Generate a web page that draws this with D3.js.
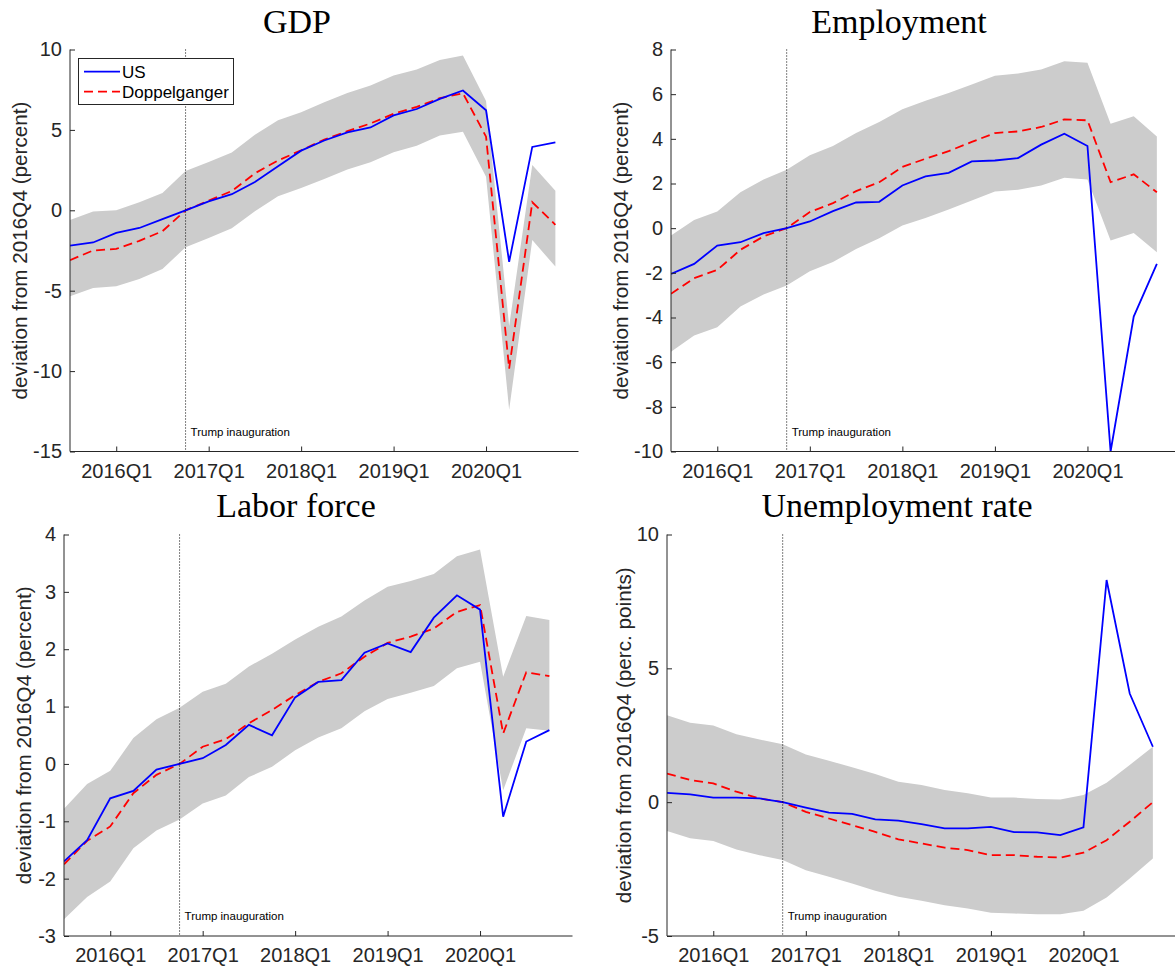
<!DOCTYPE html>
<html>
<head>
<meta charset="utf-8">
<script src="https://cdn.jsdelivr.net/npm/d3@7"></script>
<style>
  body { margin: 0; background: #fff; }
  .sans { font-family: "Liberation Sans", Arial, Helvetica, sans-serif; }
  .serif { font-family: "Liberation Serif", "Times New Roman", serif; }
</style>
</head>
<body>
<script>
// quarters 2015Q3 .. 2020Q4
var quarters = ["2015Q3","2015Q4","2016Q1","2016Q2","2016Q3","2016Q4",
                "2017Q1","2017Q2","2017Q3","2017Q4","2018Q1","2018Q2",
                "2018Q3","2018Q4","2019Q1","2019Q2","2019Q3","2019Q4",
                "2020Q1","2020Q2","2020Q3","2020Q4"];
var xTickLabels = ["2016Q1","2017Q1","2018Q1","2019Q1","2020Q1"];
var inauguration = "2016Q4";
var seriesNames = ["US", "Doppelganger"];

// GDP
var gdpUS  = [-2.2,-2.0,-1.4,-1.1,-0.55,0,0.55,1.0,1.76,2.74,3.71,4.34,4.85,5.15,5.9,6.3,6.93,7.45,6.22,-3.2,3.94,4.23];
var gdpDop = [-3.1,-2.5,-2.4,-1.9,-1.3,0,0.6,1.2,2.3,3.1,3.73,4.4,4.92,5.4,6.0,6.43,6.97,7.28,4.58,-9.85,0.5,-0.9];
var gdpHi  = [-0.6,-0.08,0.0,0.5,1.08,2.45,3.0,3.6,4.7,5.6,6.1,6.72,7.3,7.76,8.38,8.76,9.34,9.62,6.8,-7.2,2.82,1.22];
var gdpLo  = [-5.35,-4.83,-4.73,-4.27,-3.65,-2.3,-1.72,-1.12,-0.06,0.87,1.39,1.95,2.53,2.99,3.61,4.02,4.65,4.88,2.09,-12.4,-1.85,-3.5];

// Employment
var empUS  = [-2.05,-1.6,-0.78,-0.63,-0.22,0,0.3,0.76,1.15,1.18,1.91,2.32,2.48,2.99,3.03,3.14,3.74,4.23,3.68,-10.0,-3.96,-1.6];
var empDop = [-2.94,-2.24,-1.87,-0.97,-0.37,0,0.72,1.12,1.66,2.06,2.74,3.11,3.45,3.86,4.26,4.33,4.53,4.87,4.83,2.06,2.41,1.61];
var empHi  = [-0.33,0.37,0.75,1.61,2.18,2.62,3.26,3.68,4.26,4.75,5.32,5.7,6.05,6.43,6.82,6.92,7.11,7.47,7.41,4.68,5.01,4.11];
var empLo  = [-5.53,-4.81,-4.44,-3.51,-2.97,-2.57,-1.93,-1.52,-0.93,-0.45,0.12,0.46,0.84,1.24,1.64,1.72,1.91,2.26,2.18,-0.55,-0.22,-1.08];

// Labor force
var lfUS  = [-1.7,-1.33,-0.6,-0.47,-0.1,0,0.1,0.33,0.68,0.5,1.16,1.43,1.46,1.94,2.1,1.95,2.55,2.94,2.69,-0.92,0.39,0.59];
var lfDop = [-1.75,-1.34,-1.09,-0.51,-0.19,0,0.3,0.43,0.71,0.94,1.2,1.43,1.58,1.87,2.11,2.22,2.36,2.65,2.77,0.53,1.6,1.53];
var lfHi  = [-0.78,-0.35,-0.12,0.45,0.78,0.98,1.26,1.4,1.7,1.92,2.17,2.39,2.57,2.85,3.09,3.19,3.31,3.62,3.74,1.52,2.58,2.51];
var lfLo  = [-2.71,-2.32,-2.05,-1.47,-1.16,-0.97,-0.69,-0.55,-0.23,-0.05,0.24,0.46,0.62,0.92,1.13,1.24,1.36,1.67,1.78,-0.46,0.62,0.58];

// Unemployment rate
var urUS  = [0.35,0.29,0.17,0.17,0.14,0,-0.2,-0.39,-0.44,-0.64,-0.69,-0.82,-0.98,-0.98,-0.92,-1.12,-1.13,-1.23,-0.94,8.3,4.06,2.07];
var urDop = [1.07,0.83,0.7,0.39,0.14,0,-0.36,-0.61,-0.86,-1.11,-1.39,-1.54,-1.7,-1.79,-1.98,-1.98,-2.04,-2.07,-1.89,-1.42,-0.73,0.0];
var urHi  = [3.25,2.97,2.86,2.54,2.34,2.16,1.78,1.55,1.3,1.05,0.76,0.64,0.45,0.33,0.17,0.17,0.12,0.1,0.27,0.73,1.39,2.07];
var urLo  = [-1.08,-1.35,-1.45,-1.77,-1.98,-2.16,-2.54,-2.79,-3.04,-3.31,-3.53,-3.68,-3.85,-3.97,-4.13,-4.16,-4.19,-4.19,-4.06,-3.56,-2.85,-2.1];

var panels = [
  {title: "GDP", us: gdpUS, dop: gdpDop, lo: gdpLo, hi: gdpHi,
   yDomain: [-15, 10], yTicks: [-15, -10, -5, 0, 5, 10],
   yLabel: "deviation from 2016Q4 (percent)",
   left: 70, right: 578.5, top: 49.5, bottom: 451.5,
   titleX: 297, titleY: 33, labelX: 27, legend: true},
  {title: "Employment", us: empUS, dop: empDop, lo: empLo, hi: empHi,
   yDomain: [-10, 8], yTicks: [-10, -8, -6, -4, -2, 0, 2, 4, 6, 8],
   yLabel: "deviation from 2016Q4 (percent)",
   left: 671, right: 1180, top: 49.5, bottom: 451.5,
   titleX: 899, titleY: 33, labelX: 628, legend: false},
  {title: "Labor force", us: lfUS, dop: lfDop, lo: lfLo, hi: lfHi,
   yDomain: [-3, 4], yTicks: [-3, -2, -1, 0, 1, 2, 3, 4],
   yLabel: "deviation from 2016Q4 (percent)",
   left: 64, right: 572.5, top: 534.5, bottom: 936,
   titleX: 296, titleY: 517, labelX: 31, legend: false},
  {title: "Unemployment rate", us: urUS, dop: urDop, lo: urLo, hi: urHi,
   yDomain: [-5, 10], yTicks: [-5, 0, 5, 10],
   yLabel: "deviation from 2016Q4 (perc. points)",
   left: 667, right: 1176, top: 534.5, bottom: 936,
   titleX: 897, titleY: 517, labelX: 631, legend: false}
];

var svg = d3.select("body").append("svg")
    .attr("width", 1175)
    .attr("height", 968);

var axisColor = "#262626";

panels.forEach(function (p, k) {
  var x = d3.scaleLinear().domain([0, quarters.length]).range([p.left, p.right]);
  var y = d3.scaleLinear().domain(p.yDomain).range([p.bottom, p.top]);
  var g = svg.append("g");

  g.append("clipPath").attr("id", "clip" + k)
    .append("rect")
    .attr("x", p.left).attr("y", p.top - 1)
    .attr("width", p.right - p.left).attr("height", p.bottom - p.top + 2);

  var plot = g.append("g").attr("clip-path", "url(#clip" + k + ")");

  // confidence band
  var area = d3.area()
    .x(function (d, i) { return x(i); })
    .y0(function (d, i) { return y(p.lo[i]); })
    .y1(function (d, i) { return y(p.hi[i]); });
  plot.append("path").datum(quarters)
    .attr("d", area)
    .attr("fill", "#cccccc");

  // inauguration marker
  var qi = quarters.indexOf(inauguration);
  g.append("line")
    .attr("x1", x(qi)).attr("x2", x(qi))
    .attr("y1", p.top).attr("y2", p.bottom)
    .attr("stroke", "#000").attr("stroke-width", 1)
    .attr("stroke-dasharray", "1,2");
  g.append("text").attr("class", "sans")
    .attr("x", x(qi) + 5).attr("y", p.bottom - 16)
    .attr("font-size", 11.5).attr("fill", "#000")
    .text("Trump inauguration");

  var line = function (arr) {
    return d3.line()
      .x(function (d, i) { return x(i); })
      .y(function (d) { return y(d); })(arr);
  };
  plot.append("path").attr("d", line(p.dop))
    .attr("fill", "none").attr("stroke", "#ff0000")
    .attr("stroke-width", 1.8).attr("stroke-dasharray", "9,5");
  plot.append("path").attr("d", line(p.us))
    .attr("fill", "none").attr("stroke", "#0000ff")
    .attr("stroke-width", 1.8);

  // y axis (plain hyphen for negatives, like the original)
  var yAxis = d3.axisLeft(y).tickValues(p.yTicks).tickSize(-5).tickPadding(8)
    .tickFormat(function (d) { return String(d); });
  var ya = g.append("g").attr("transform", "translate(" + p.left + ",0)").call(yAxis);
  // x axis
  var xTicks = xTickLabels.map(function (q) { return quarters.indexOf(q); });
  var xAxis = d3.axisBottom(x).tickValues(xTicks).tickSize(-5).tickPadding(12)
    .tickFormat(function (d) { return quarters[d]; });
  var xa = g.append("g").attr("transform", "translate(0," + p.bottom + ")").call(xAxis);

  [ya, xa].forEach(function (a) {
    a.attr("font-family", null).attr("font-size", null);
    a.select(".domain").attr("stroke", axisColor).attr("stroke-width", 1);
    a.selectAll(".tick line").attr("stroke", axisColor).attr("stroke-width", 1);
    a.selectAll(".tick text").attr("class", "sans")
      .attr("fill", axisColor)
      .attr("font-size", 20);
  });
  // plain lines without end caps
  ya.select(".domain").attr("d", "M0," + p.top + "V" + p.bottom);
  xa.select(".domain").attr("d", "M" + p.left + ",0H" + p.right);

  // y label
  g.append("text").attr("class", "sans")
    .attr("transform", "translate(" + p.labelX + "," + ((p.top + p.bottom) / 2) + ") rotate(-90)")
    .attr("text-anchor", "middle")
    .attr("font-size", 20.7)
    .attr("fill", axisColor)
    .text(p.yLabel);

  // title
  g.append("text").attr("class", "serif")
    .attr("x", p.titleX).attr("y", p.titleY)
    .attr("text-anchor", "middle")
    .attr("font-size", 34)
    .attr("fill", "#000")
    .text(p.title);

  if (p.legend) {
    var lg = g.append("g");
    lg.append("rect")
      .attr("x", 78.5).attr("y", 58.5).attr("width", 155).attr("height", 46)
      .attr("fill", "#fff").attr("stroke", axisColor).attr("stroke-width", 1);
    var styles = [{c: "#0000ff", dash: null}, {c: "#ff0000", dash: "9,5"}];
    seriesNames.forEach(function (name, i) {
      var yy = 71.7 + i * 20;
      lg.append("line")
        .attr("x1", 84).attr("x2", 120).attr("y1", yy).attr("y2", yy)
        .attr("stroke", styles[i].c).attr("stroke-width", 1.8)
        .attr("stroke-dasharray", styles[i].dash);
      lg.append("text").attr("class", "sans")
        .attr("x", 122).attr("y", yy + 6)
        .attr("font-size", 17).attr("fill", "#000")
        .text(name);
    });
  }
});
</script>
</body>
</html>
